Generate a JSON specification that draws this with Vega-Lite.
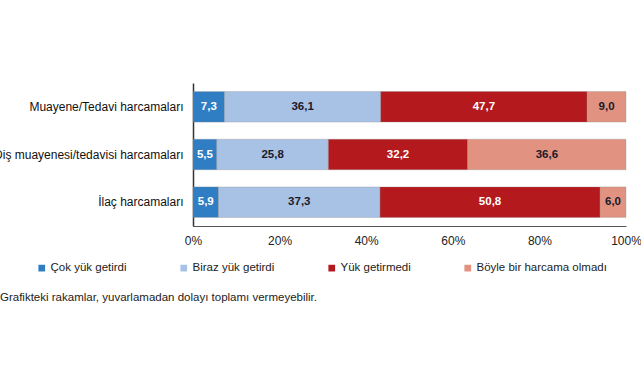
{
  "$schema": "https://vega.github.io/schema/vega-lite/v6.json",
  "width": 433,
  "height": 143,
  "autosize": "none",
  "padding": {"left": 193, "top": 83, "right": 15, "bottom": 154},
  "background": "white",
  "config": {
    "view": {"stroke": null},
    "font": "Liberation Sans"
  },
  "title": {
    "text": "Grafikteki rakamlar, yuvarlamadan dolayı toplamı vermeyebilir.",
    "orient": "bottom",
    "anchor": "start",
    "frame": "group",
    "dx": -193,
    "offset": 18,
    "fontSize": 11.5,
    "fontWeight": "normal",
    "color": "#222"
  },
  "data": {
    "values": [
      {"cat": "Muayene/Tedavi harcamaları", "k": "Çok yük getirdi", "o": 1, "v": 7.3, "t": "7,3"},
      {"cat": "Muayene/Tedavi harcamaları", "k": "Biraz yük getirdi", "o": 2, "v": 36.1, "t": "36,1"},
      {"cat": "Muayene/Tedavi harcamaları", "k": "Yük getirmedi", "o": 3, "v": 47.7, "t": "47,7"},
      {"cat": "Muayene/Tedavi harcamaları", "k": "Böyle bir harcama olmadı", "o": 4, "v": 9.0, "t": "9,0"},
      {"cat": "Diş muayenesi/tedavisi harcamaları", "k": "Çok yük getirdi", "o": 1, "v": 5.5, "t": "5,5"},
      {"cat": "Diş muayenesi/tedavisi harcamaları", "k": "Biraz yük getirdi", "o": 2, "v": 25.8, "t": "25,8"},
      {"cat": "Diş muayenesi/tedavisi harcamaları", "k": "Yük getirmedi", "o": 3, "v": 32.2, "t": "32,2"},
      {"cat": "Diş muayenesi/tedavisi harcamaları", "k": "Böyle bir harcama olmadı", "o": 4, "v": 36.6, "t": "36,6"},
      {"cat": "İlaç harcamaları", "k": "Çok yük getirdi", "o": 1, "v": 5.9, "t": "5,9"},
      {"cat": "İlaç harcamaları", "k": "Biraz yük getirdi", "o": 2, "v": 37.3, "t": "37,3"},
      {"cat": "İlaç harcamaları", "k": "Yük getirmedi", "o": 3, "v": 50.8, "t": "50,8"},
      {"cat": "İlaç harcamaları", "k": "Böyle bir harcama olmadı", "o": 4, "v": 6.0, "t": "6,0"}
    ]
  },
  "encoding": {
    "y": {
      "field": "cat",
      "type": "nominal",
      "sort": ["Muayene/Tedavi harcamaları", "Diş muayenesi/tedavisi harcamaları", "İlaç harcamaları"],
      "scale": {"paddingInner": 0.36, "paddingOuter": 0.18},
      "axis": {
        "title": null,
        "ticks": false,
        "labelPadding": 10,
        "labelLimit": 400,
        "labelFontSize": 12,
        "labelColor": "#111",
        "domainColor": "#333",
        "domainWidth": 1.5
      }
    },
    "x": {
      "field": "v",
      "type": "quantitative",
      "stack": "normalize",
      "scale": {"domain": [0, 1], "nice": false},
      "axis": {
        "title": null,
        "format": ".0%",
        "values": [0, 0.2, 0.4, 0.6, 0.8, 1],
        "grid": false,
        "ticks": false,
        "labelFlush": false,
        "labelPadding": 9,
        "labelFontSize": 12,
        "labelColor": "#222",
        "domainColor": "#555",
        "domainWidth": 1
      }
    },
    "order": {"field": "o", "type": "quantitative"}
  },
  "layer": [
    {
      "mark": {"type": "bar", "stroke": "#888", "strokeWidth": 0.6, "strokeOpacity": 0.5},
      "encoding": {
        "color": {
          "field": "k",
          "type": "nominal",
          "scale": {
            "domain": ["Çok yük getirdi", "Biraz yük getirdi", "Yük getirmedi", "Böyle bir harcama olmadı"],
            "range": ["#2F7DC2", "#A8C2E6", "#B4191E", "#E29280"]
          },
          "legend": {
            "title": null,
            "orient": "none",
            "direction": "horizontal",
            "columns": 4,
            "columnPadding": 51,
            "legendX": -157,
            "legendY": 179,
            "symbolType": "square",
            "symbolSize": 45,
            "symbolStrokeWidth": 0,
            "symbolOffset": 0,
            "labelOffset": 3,
            "labelFontSize": 11.5,
            "labelColor": "#222",
            "labelLimit": 300
          }
        }
      }
    },
    {
      "mark": {"type": "text", "fontSize": 11.5, "fontWeight": "bold"},
      "encoding": {
        "x": {"field": "v", "type": "quantitative", "stack": "normalize", "bandPosition": 0.5},
        "text": {"field": "t", "type": "nominal"},
        "color": {
          "condition": {"test": "datum.k == 'Çok yük getirdi' || datum.k == 'Yük getirmedi'", "value": "white"},
          "value": "#1a1a2a"
        }
      }
    }
  ]
}
